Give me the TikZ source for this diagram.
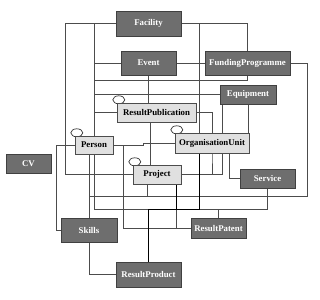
\documentclass[tikz,border=0pt]{standalone}
\usepackage{fontspec}
\setmainfont{Liberation Serif}
\usetikzlibrary{backgrounds}

\begin{document}
\begin{tikzpicture}[
    x=1pt, y=-1pt,
    darkbox/.style={rectangle, draw=black!75, fill=black!57, inner sep=0pt, text=white, font=\fontsize{8.8}{10}\selectfont\bfseries},
    lightbox/.style={rectangle, draw=black!70, fill=black!12, inner sep=0pt, font=\fontsize{8.8}{10}\selectfont\bfseries},
    link/.style={draw=black!70, line width=0.6pt},
    strong/.style={draw=black, line width=1pt},
    selfref/.style={draw=black!80, line width=0.7pt}
]
    \useasboundingbox (0,0) rectangle (320,299);

    % Upper entities
    \node[darkbox, minimum width=65pt, minimum height=25pt] (fac) at (148.5,23.5) {Facility};
    \node[darkbox, minimum width=55pt, minimum height=24pt] (evt) at (148.5,63) {Event};
    \node[darkbox, minimum width=85pt, minimum height=24pt] (fund) at (247.5,63) {FundingProgramme};
    \node[darkbox, minimum width=56pt, minimum height=19pt] (equ) at (248,94.5) {Equipment};

    % Core entities
    \node[lightbox, minimum width=79pt, minimum height=19pt] (pub) at (156.5,112.5) {ResultPublication};
    \node[lightbox, minimum width=38pt, minimum height=18pt] (per) at (94,145) {Person};
    \node[lightbox, minimum width=74pt, minimum height=20pt] (org) at (212,143) {OrganisationUnit};
    \node[lightbox, minimum width=48pt, minimum height=19pt] (proj) at (157,174.5) {Project};

    % Lower entities
    \node[darkbox, minimum width=45pt, minimum height=19pt] (cv) at (28.5,163.5) {CV};
    \node[darkbox, minimum width=55pt, minimum height=19pt] (srv) at (267.5,178.5) {Service};
    \node[darkbox, minimum width=56pt, minimum height=24pt] (skl) at (89,230) {Skills};
    \node[darkbox, minimum width=55pt, minimum height=20pt] (pat) at (218.5,228) {ResultPatent};
    \node[darkbox, minimum width=65pt, minimum height=25pt] (prd) at (148.5,274.5) {ResultProduct};

    \begin{scope}[on background layer]
    % Self references
    \foreach \n in {pub, per, org, proj}
        \draw[selfref] (\n.north west) ++(2,-3) ellipse [x radius=6pt, y radius=4pt];

    % Connections
    \draw[link] (fac.west) -- ++(-51,0) |- (proj.west);
    \draw[link] (per.north) |- (fac.west);
    \draw[link] (per.north |- evt.west) -- (evt.west);
    \draw[link] (fund.south) -- ++(0,5) -| (per.north);
    \draw[link] (equ.west) -| (per.north);
    \draw[link] (pub.west) -| (per.north);
    \draw[link] (per.south) -- ++(0,55) -| (srv.south);
    \draw[link] (pat.north) -- ++(0,-9) -| (srv.south);
    \draw[link] (evt.south) -- (evt.south |- pub.north);
    \draw[link] (evt.east) -- (fund.west);
    \draw[link] (fac.east) -| (fund.north);
    \draw[link] (fac.east) -| ([xshift=-13]org.north);
    \draw[link] (fund.east) -- ++(17,0) -- ++(0,133) -| (skl.north);
    \draw[link] ([xshift=-5]per.south) -- (skl.north);
    \draw[link] ([xshift=-10]proj.south) -- ++(0,12);
    \draw[link] (per.east) -- ++(10,0) |- (pat.west);
    \draw[link] (per.east) -- ++(30,0) |- (org.west);
    \draw[link] ([xshift=-6]pub.south) -- ([xshift=-6]pub.south |- proj.north);
    \draw[link] (pub.east) -| (org.south) |- (proj.east);
    \draw[link] ([xshift=2]equ.south west) |- (proj.east);
    \draw[link] (equ.south) -- (equ.south |- org.north);
    \draw[link] ([xshift=17]org.south) |- (srv.west);
    \draw[link] ([xshift=19]proj.south) |- (pat.west);
    \draw[link] (per.west) -- ++(-19,0) |- (skl.west);
    \draw[link] (skl.south) |- (prd.west);
    \draw[strong] ([xshift=-13]org.south) -- ++(0,56) -| (prd.north);
    \draw[strong] ([xshift=19]proj.south) -- ++(0,25);
    \end{scope}
\end{tikzpicture}
\end{document}
